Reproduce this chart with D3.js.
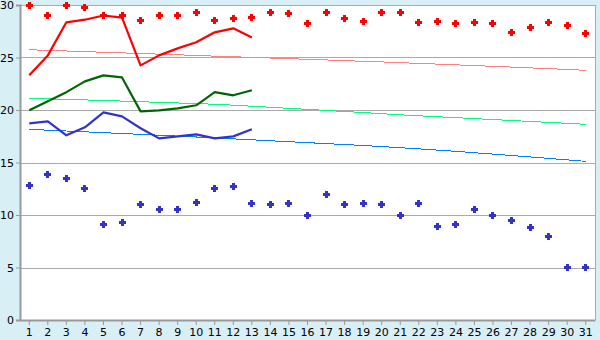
<!DOCTYPE html>
<meta charset="utf-8">
<head>
  <title>Daily temperatures</title>
</head>

<style>
body { margin: 0; background: #d9eff6; }
svg { display: block; }
.grid line { stroke: #aaaaaa; stroke-width: 1; }
.axis text { font-family: "DejaVu Sans", Verdana, sans-serif; font-size: 11px; fill: #000; }
.axis path, .axis line { stroke: #999999; }
</style>

<body>
  <svg width="600" height="340"></svg>

  <script src="https://cdnjs.cloudflare.com/ajax/libs/d3/7.8.5/d3.min.js"></script>
  <script>

// days of the month
const days = d3.range(1, 32);
const yTicks = [0, 5, 10, 15, 20, 25, 30];

// record highs / lows (markers)
const recordMax = [30, 29.0, 30, 29.8, 29.0, 29.0, 28.5, 29.0, 29.0, 29.3, 28.5, 28.7, 28.8, 29.3, 29.2,
  28.2, 29.3, 28.7, 28.4, 29.3, 29.3, 28.3, 28.4, 28.2, 28.3, 28.2, 27.4, 27.9, 28.3, 28.0, 27.3];
const recordMin = [12.8, 13.9, 13.5, 12.5, 9.1, 9.3, 11.0, 10.5, 10.5, 11.2, 12.5, 12.7, 11.1, 11.0, 11.1,
  10.0, 12.0, 11.0, 11.1, 11.0, 10.0, 11.1, 8.9, 9.1, 10.5, 10.0, 9.5, 8.8, 8.0, 5.0, 5.0];

// observed this month (first 13 days)
const obsMax = [23.3, 25.2, 28.35, 28.6, 29.0, 28.8, 24.25, 25.2, 25.87, 26.45, 27.4, 27.78, 26.9];
const obsMean = [19.97, 20.83, 21.7, 22.73, 23.3, 23.1, 19.87, 19.97, 20.16, 20.45, 21.7, 21.4, 21.88];
const obsMin = [18.73, 18.92, 17.59, 18.35, 19.78, 19.4, 18.26, 17.3, 17.49, 17.68, 17.3, 17.49, 18.16];

// normals
const normMax = [25.74, 25.68, 25.62, 25.56, 25.50, 25.44, 25.38, 25.32, 25.26, 25.19, 25.13, 25.07, 25.01,
  24.95, 24.89, 24.83, 24.77, 24.70, 24.64, 24.58, 24.51, 24.44, 24.37, 24.30, 24.23, 24.16, 24.09,
  24.01, 23.94, 23.86, 23.78];
const normMean = [21.11, 21.06, 21.01, 20.96, 20.90, 20.85, 20.79, 20.73, 20.67, 20.61, 20.55, 20.46, 20.36,
  20.26, 20.16, 20.06, 19.96, 19.86, 19.76, 19.65, 19.54, 19.45, 19.36, 19.27, 19.18, 19.09, 19.00,
  18.91, 18.82, 18.73, 18.64];
const normMin = [18.16, 18.08, 18.00, 17.92, 17.84, 17.76, 17.68, 17.60, 17.51, 17.43, 17.34, 17.25, 17.16,
  17.07, 16.98, 16.89, 16.80, 16.71, 16.62, 16.52, 16.41, 16.30, 16.18, 16.06, 15.93, 15.80, 15.67,
  15.53, 15.39, 15.25, 15.11];

const plotLeft = 20, plotRight = 595, plotTop = 5, plotBottom = 320;

const x = d3.scaleBand().domain(days).range([plotLeft, plotRight]);
const y = d3.scaleLinear().domain([0, 30]).range([plotBottom, plotTop]);
const cx = d => x(d) + x.bandwidth() / 2;

const svg = d3.select('svg');

// plot background
svg.append('rect')
  .attr('x', plotLeft).attr('y', plotTop)
  .attr('width', plotRight - plotLeft).attr('height', plotBottom - plotTop)
  .attr('fill', 'white');

// gridlines
svg.append('g').attr('class', 'grid')
  .selectAll('line')
  .data(yTicks)
  .enter()
  .append('line')
  .attr('x1', plotLeft).attr('x2', plotRight)
  .attr('y1', d => Math.round(y(d)) + 0.5)
  .attr('y2', d => Math.round(y(d)) + 0.5);

// right border
svg.append('line')
  .attr('x1', plotRight + 0.5).attr('x2', plotRight + 0.5)
  .attr('y1', plotTop).attr('y2', plotBottom)
  .attr('stroke', '#aaaaaa');

// axes
svg.append('g').attr('class', 'axis')
  .attr('transform', 'translate(' + plotLeft + ',0)')
  .call(d3.axisLeft(y).tickValues(yTicks).tickSize(4).tickPadding(2))
  .call(g => g.select('.domain').attr('stroke-width', 2));

svg.append('g').attr('class', 'axis')
  .attr('transform', 'translate(0,' + plotBottom + ')')
  .call(d3.axisBottom(x).tickSize(5).tickSizeOuter(0).tickPadding(3))
  .call(g => g.select('.domain').attr('stroke-width', 2));

// normal lines (aliased like the original)
function drawLine(values, color, width, crisp) {
  const line = d3.line()
    .x((d, i) => cx(days[i]))
    .y(d => y(d));
  svg.append('path')
    .datum(values)
    .attr('d', line)
    .attr('fill', 'none')
    .attr('stroke', color)
    .attr('stroke-width', width)
    .attr('stroke-linejoin', 'round')
    .attr('shape-rendering', crisp ? 'crispEdges' : 'auto');
}

drawLine(normMax, '#ff8080', 1, true);
drawLine(normMean, '#00ff80', 1, true);
drawLine(normMin, '#0080ff', 1, true);

drawLine(obsMax, '#ff0000', 2.2, false);
drawLine(obsMean, '#006600', 2.2, false);
drawLine(obsMin, '#3333cc', 2.2, false);

// record markers: small chunky plus
const plus = {
  draw(ctx) {
    const a = 3.5, b = 1.5;
    ctx.moveTo(-b, -a); ctx.lineTo(b, -a); ctx.lineTo(b, -b); ctx.lineTo(a, -b);
    ctx.lineTo(a, b); ctx.lineTo(b, b); ctx.lineTo(b, a); ctx.lineTo(-b, a);
    ctx.lineTo(-b, b); ctx.lineTo(-a, b); ctx.lineTo(-a, -b); ctx.lineTo(-b, -b);
    ctx.closePath();
  }
};
const marker = d3.symbol().type(plus);

function drawMarkers(values, color) {
  svg.append('g')
    .selectAll('path')
    .data(values)
    .enter()
    .append('path')
    .attr('d', marker)
    .attr('transform', (d, i) => 'translate(' + (Math.floor(cx(days[i])) + 0.5) + ',' + (Math.floor(y(d)) + 0.5) + ')')
    .attr('fill', color)
    .attr('shape-rendering', 'crispEdges');
}

drawMarkers(recordMax, '#ff0000');
drawMarkers(recordMin, '#3333cc');

  </script>
</body>
</html>
